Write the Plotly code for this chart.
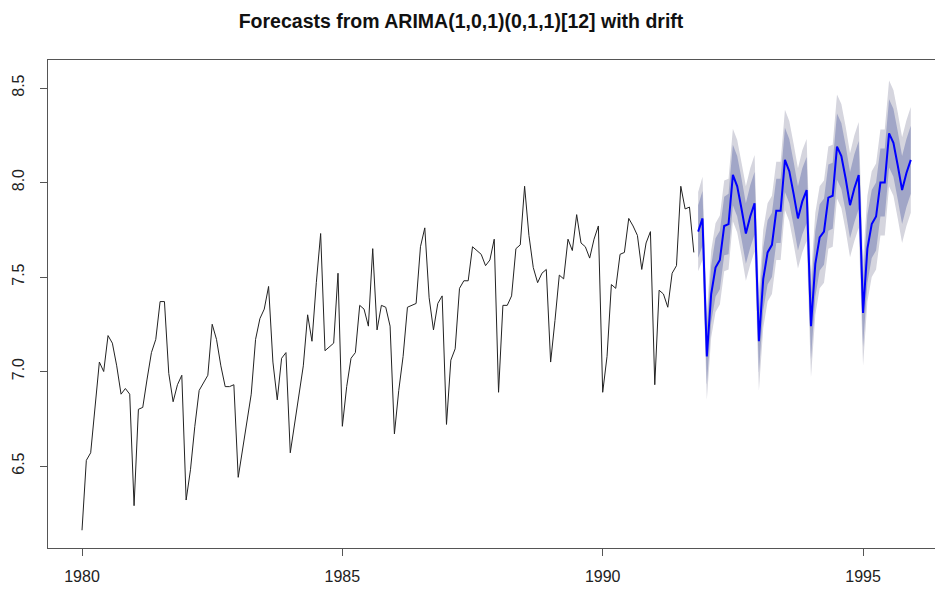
import plotly.graph_objects as go

# ---------------- data ----------------
start_year = 1980
freq = 12

history = [
    6.16, 6.53, 6.57, 6.81, 7.05, 7.00, 7.19, 7.15, 7.03, 6.88, 6.91, 6.88,
    6.29, 6.80, 6.81, 6.96, 7.10, 7.17, 7.37, 7.37, 6.99, 6.84, 6.93, 6.98,
    6.32, 6.48, 6.71, 6.90, 6.94, 6.98, 7.25, 7.17, 7.03, 6.92, 6.92, 6.93,
    6.44, 6.58, 6.73, 6.88, 7.17, 7.28, 7.33, 7.45, 7.05, 6.85, 7.07, 7.10,
    6.57, 6.73, 6.88, 7.03, 7.30, 7.16, 7.47, 7.73, 7.11, 7.13, 7.15, 7.52,
    6.71, 6.92, 7.07, 7.10, 7.35, 7.33, 7.24, 7.65, 7.22, 7.35, 7.34, 7.24,
    6.67, 6.90, 7.08, 7.34, 7.35, 7.36, 7.66, 7.76, 7.39, 7.22, 7.36, 7.40,
    6.72, 7.06, 7.12, 7.44, 7.48, 7.48, 7.66, 7.64, 7.62, 7.56, 7.59, 7.70,
    6.89, 7.35, 7.35, 7.40, 7.65, 7.67, 7.98, 7.72, 7.55, 7.47, 7.52, 7.54,
    7.05, 7.27, 7.51, 7.49, 7.70, 7.64, 7.83, 7.68, 7.66, 7.60, 7.70, 7.77,
    6.89, 7.08, 7.46, 7.44, 7.62, 7.63, 7.81, 7.77, 7.72, 7.54, 7.68, 7.74,
    6.93, 7.43, 7.41, 7.34, 7.52, 7.56, 7.98, 7.86, 7.87, 7.63,
]

forecast_mean = [
    7.74, 7.81,
    7.08, 7.41, 7.55, 7.59, 7.77, 7.78, 8.04, 7.98, 7.86, 7.73, 7.82, 7.89,
    7.16, 7.49, 7.63, 7.67, 7.85, 7.85, 8.12, 8.06, 7.94, 7.81, 7.90, 7.96,
    7.24, 7.57, 7.71, 7.74, 7.92, 7.93, 8.19, 8.14, 8.02, 7.88, 7.97, 8.04,
    7.31, 7.65, 7.78, 7.82, 8.00, 8.00, 8.26, 8.21, 8.09, 7.96, 8.05, 8.12,
]

# half-widths of the prediction intervals, by horizon
half_width_80 = [
    0.14, 0.145, 0.15, 0.15, 0.155, 0.155, 0.155, 0.16, 0.16, 0.16, 0.16, 0.16,
    0.165, 0.165, 0.165, 0.165, 0.17, 0.17, 0.17, 0.17, 0.17, 0.17, 0.17, 0.17,
    0.175, 0.175, 0.175, 0.175, 0.175, 0.175, 0.175, 0.175, 0.175, 0.175, 0.175, 0.175,
    0.18, 0.18, 0.18, 0.18, 0.18, 0.18, 0.18, 0.18, 0.18, 0.18, 0.18, 0.18, 0.18, 0.18,
]
half_width_95 = [
    0.21, 0.22, 0.23, 0.23, 0.235, 0.235, 0.24, 0.24, 0.245, 0.245, 0.245, 0.25,
    0.255, 0.255, 0.26, 0.26, 0.26, 0.26, 0.26, 0.26, 0.265, 0.265, 0.265, 0.265,
    0.27, 0.27, 0.27, 0.27, 0.27, 0.27, 0.27, 0.27, 0.275, 0.275, 0.275, 0.275,
    0.28, 0.28, 0.28, 0.28, 0.28, 0.28, 0.28, 0.28, 0.28, 0.28, 0.28, 0.28, 0.28, 0.28,
]

x_tick_vals = [1980, 1985, 1990, 1995]
y_tick_vals = [6.5, 7.0, 7.5, 8.0, 8.5]
title_text = "Forecasts from ARIMA(1,0,1)(0,1,1)[12] with drift"

# ---------------- derived ----------------
t_hist = [start_year + i / freq for i in range(len(history))]
n0 = len(history)
t_fc = [start_year + (n0 + i) / freq for i in range(len(forecast_mean))]
lo80 = [m - w for m, w in zip(forecast_mean, half_width_80)]
hi80 = [m + w for m, w in zip(forecast_mean, half_width_80)]
lo95 = [m - w for m, w in zip(forecast_mean, half_width_95)]
hi95 = [m + w for m, w in zip(forecast_mean, half_width_95)]

LIGHT = "#D5D5DE"
DARK = "#A1A6C7"

fig = go.Figure()
fig.add_trace(go.Scatter(x=t_fc, y=lo95, mode="lines", line=dict(width=0, color=LIGHT),
                         showlegend=False, hoverinfo="skip"))
fig.add_trace(go.Scatter(x=t_fc, y=hi95, mode="lines", line=dict(width=0, color=LIGHT),
                         fill="tonexty", fillcolor=LIGHT, showlegend=False, hoverinfo="skip"))
fig.add_trace(go.Scatter(x=t_fc, y=lo80, mode="lines", line=dict(width=0, color=DARK),
                         showlegend=False, hoverinfo="skip"))
fig.add_trace(go.Scatter(x=t_fc, y=hi80, mode="lines", line=dict(width=0, color=DARK),
                         fill="tonexty", fillcolor=DARK, showlegend=False, hoverinfo="skip"))
fig.add_trace(go.Scatter(x=t_fc, y=forecast_mean, mode="lines",
                         line=dict(color="#0000FF", width=2), showlegend=False))
fig.add_trace(go.Scatter(x=t_hist, y=history, mode="lines",
                         line=dict(color="#222222", width=1), showlegend=False))

px_per_year = 52.07
px_per_unit = 189.0
x_left = 1980 - (82 - 48) / px_per_year
x_right = 1980 + (935 - 82) / px_per_year
y_bottom = 6.5 - (548 - 466) / px_per_unit
y_top = 8.5 + (466 - 60) / px_per_unit - 2.0

fig.update_layout(
    width=935, height=591,
    margin=dict(l=48, r=0, t=60, b=43),
    paper_bgcolor="white", plot_bgcolor="white",
    font=dict(family="Liberation Sans, Arial, Helvetica, sans-serif", size=16, color="#222222"),
    title=dict(text="<b>" + title_text + "</b>", x=461 / 935, xanchor="center",
               y=1 - 21 / 591, yanchor="middle",
               font=dict(size=19.5, color="#111111")),
    xaxis=dict(range=[x_left, x_right], tickvals=x_tick_vals,
               ticktext=[str(v) for v in x_tick_vals],
               showgrid=False, zeroline=False, showline=True, mirror=True,
               linecolor="#555555", linewidth=1, ticklabelstandoff=7,
               ticks="outside", ticklen=7, tickcolor="#555555", tickwidth=1),
    yaxis=dict(range=[y_bottom, y_top], tickvals=y_tick_vals,
               ticktext=["%.1f" % v for v in y_tick_vals], tickangle=-90,
               showgrid=False, zeroline=False, showline=True, mirror=False,
               linecolor="#555555", linewidth=1, ticklabelstandoff=10,
               ticks="outside", ticklen=7, tickcolor="#555555", tickwidth=1),
)

fig.write_html("out.html")
